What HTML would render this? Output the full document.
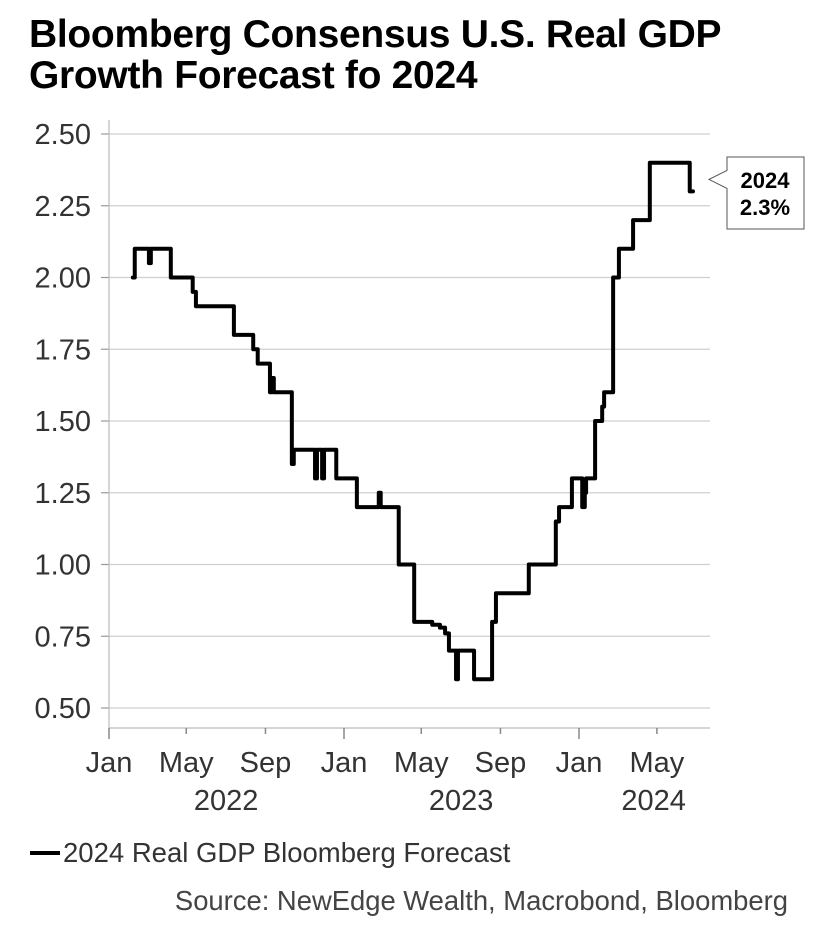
<!DOCTYPE html>
<html><head><meta charset="utf-8"><style>
body{margin:0;background:#fff;font-family:"Liberation Sans",Arial,sans-serif;}
#wrap{position:relative;width:838px;height:943px;overflow:hidden;}
h1{position:absolute;left:29px;top:14px;margin:0;font-size:39px;line-height:41px;font-weight:bold;color:#000;letter-spacing:-0.3px;}
svg{position:absolute;left:0;top:0;}
</style></head><body>
<div id="wrap">
<h1>Bloomberg Consensus U.S. Real GDP<br>Growth Forecast fo 2024</h1>
<svg id="c" width="838" height="943"></svg>
</div>
<script>
const days=[37,40,62,65,96,130,135,194,224,231,250,253,256,284,287,320,323,331,334,353,385,419,422,450,474,502,514,522,528,539,542,567,595,601,652,694,699,719,735,739,741,755,766,769,783,792,814,840,902,907];
const values=[2.00,2.10,2.05,2.10,2.00,1.95,1.90,1.80,1.75,1.70,1.60,1.65,1.60,1.35,1.40,1.30,1.40,1.30,1.40,1.30,1.20,1.25,1.20,1.00,0.80,0.79,0.78,0.76,0.70,0.60,0.70,0.60,0.80,0.90,1.00,1.15,1.20,1.30,1.20,1.25,1.30,1.50,1.55,1.60,2.00,2.10,2.20,2.40,2.30,2.30];
const yTicks=[0.50,0.75,1.00,1.25,1.50,1.75,2.00,2.25,2.50];
const monthTickDays=[0,120,243,365,485,608,730,851];
const monthLabels=["Jan","May","Sep","Jan","May","Sep","Jan","May"];
const yearLabels=["2022","2023","2024"];
const yearDays=[182,547,846];

const NS="http://www.w3.org/2000/svg";
const svg=document.getElementById('c');
const X=d=>109+d*(470/730);
const Y=v=>708-(v-0.5)*(574/2);
function mk(tag,attrs,text){const e=document.createElementNS(NS,tag);for(const k in attrs)e.setAttribute(k,attrs[k]);if(text!==undefined)e.textContent=text;svg.appendChild(e);return e;}
const xr=710;
yTicks.forEach(v=>{
  const g=mk('line',{x1:109,x2:xr,y1:Y(v),y2:Y(v),stroke:'#cfcfcf','stroke-width':1.2});
  
  
  const t=mk('line',{x1:101,x2:109,y1:Y(v),y2:Y(v),stroke:'#999','stroke-width':1.2});
  
  
  const l=mk('text',{x:91,y:Y(v)+10,'text-anchor':'end','font-size':29,fill:'#333'},v.toFixed(2));
  
  
});
const ya=mk('line',{x1:109,x2:109,y1:120,y2:728,stroke:'#bbb','stroke-width':1.2});


const xa=mk('line',{x1:109,x2:xr,y1:728,y2:728,stroke:'#bbb','stroke-width':1.2});


monthTickDays.forEach((d,i)=>{
  const t=mk('line',{x1:X(d),x2:X(d),y1:728,y2:(i%3===0?739:734),stroke:'#888','stroke-width':1.5});
  
  
  const l=mk('text',{x:X(d),y:772,'text-anchor':'middle','font-size':29,fill:'#333'},monthLabels[i]);
  
  
});
yearLabels.forEach((y,i)=>{
  const l=mk('text',{x:X(yearDays[i]),y:810,'text-anchor':'middle','font-size':29,fill:'#333'},y);
  
  
});
let d='';
days.forEach((dd,i)=>{
  if(i===0)d+='M'+X(dd)+','+Y(values[i]);
  else d+=' L'+X(dd)+','+Y(values[i-1])+' L'+X(dd)+','+Y(values[i]);
});
const p=mk('path',{d:d,fill:'none',stroke:'#000','stroke-width':4,'stroke-linejoin':'round','stroke-linecap':'round'});


const lastY=Y(values[values.length-1]);
const cb=mk('path',{d:`M727,157 L804,157 L804,229 L727,229 L727,${lastY-3} L709,${lastY-12} L727,${lastY-21} Z`,fill:'#fff',stroke:'#555','stroke-width':1});


const c1=mk('text',{x:765,y:188,'text-anchor':'middle','font-size':22,'font-weight':'bold',fill:'#000'},'2024');


const c2=mk('text',{x:765,y:215,'text-anchor':'middle','font-size':22,'font-weight':'bold',fill:'#000'},'2.3%');


const lg=mk('line',{x1:30,x2:60,y1:853,y2:853,stroke:'#000','stroke-width':4});


const lt=mk('text',{x:63,y:862,'font-size':27.5,fill:'#333'},'2024 Real GDP Bloomberg Forecast');


const src=mk('text',{x:788,y:910,'text-anchor':'end','font-size':27.4,fill:'#444'},'Source: NewEdge Wealth, Macrobond, Bloomberg');


</script>
</body></html>
